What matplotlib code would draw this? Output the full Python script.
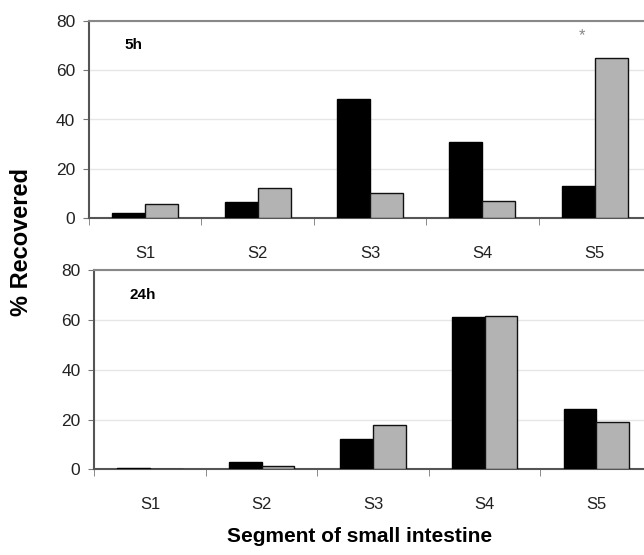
import matplotlib
matplotlib.use("Agg")
import matplotlib.pyplot as plt
import numpy as np

plt.rcParams["font.family"] = ["Liberation Sans", "DejaVu Sans"]

segments = ["S1", "S2", "S3", "S4", "S5"]
black_5h = [2.1, 6.7, 48.1, 31.0, 13.1]
gray_5h = [5.9, 12.2, 10.3, 7.0, 64.9]
black_24h = [0.6, 3.1, 12.0, 61.2, 24.2]
gray_24h = [0.0, 1.3, 17.7, 61.6, 19.2]
panel_labels = ["5h", "24h"]

W, H = 644, 555
fig = plt.figure(figsize=(W / 100, H / 100), dpi=100)

# axes boxes in pixels: left, top(80), bottom(0), right (clipped past the edge)
boxes = [(89, 20.7, 218.3, 651), (94.3, 270.3, 469.3, 652)]

x = np.arange(len(segments))
bw = 0.293
for box, blk, gry, lab in zip(boxes, [black_5h, black_24h], [gray_5h, gray_24h], panel_labels):
    l, t, b, r = box
    ax = fig.add_axes([l / W, (H - b) / H, (r - l) / W, (b - t) / H])
    ax.bar(x - bw / 2, blk, bw, color="black", edgecolor="black", linewidth=1, zorder=3)
    ax.bar(x + bw / 2, gry, bw, color="#b3b3b3", edgecolor="#111111", linewidth=1, zorder=3)
    ax.set_xlim(-0.5, len(segments) - 0.5)
    ax.set_ylim(0, 80)
    ax.set_yticks([0, 20, 40, 60, 80])
    ax.yaxis.grid(True, color="#e6e6e6", linewidth=1, zorder=0)
    ax.set_xticks(x)
    ax.set_xticklabels(segments)
    ax.set_xticks(np.arange(-0.5, len(segments), 1.0), minor=True)
    ax.tick_params(axis="x", which="major", length=0, pad=20, labelsize=12, colors="#222222")
    ax.tick_params(axis="x", which="minor", length=5, direction="out", color="#777777")
    ax.tick_params(axis="y", length=4, direction="out", pad=6, labelsize=12.5, color="#777777", labelcolor="#222222")
    ax.spines["left"].set_color("#555555")
    ax.spines["bottom"].set_color("#555555")
    ax.spines["top"].set_color("#888888")
    ax.spines["right"].set_color("#888888")
    for s in ax.spines.values():
        s.set_linewidth(1.5)
    ax.text(-0.18, 70, lab, fontsize=11, fontweight="bold", ha="left", va="center")
    if lab == "5h":
        ax.text(3.89, 74, "*", fontsize=12, color="#888888", ha="center", va="center")

fig.text(22 / W, 1 - 242 / H, "% Recovered", rotation=90, fontsize=17,
         fontweight="bold", ha="center", va="center")
fig.text(360 / W, 1 - 536 / H, "Segment of small intestine", fontsize=15,
         fontweight="bold", ha="center", va="center")

fig.savefig("out.png", dpi=100)
